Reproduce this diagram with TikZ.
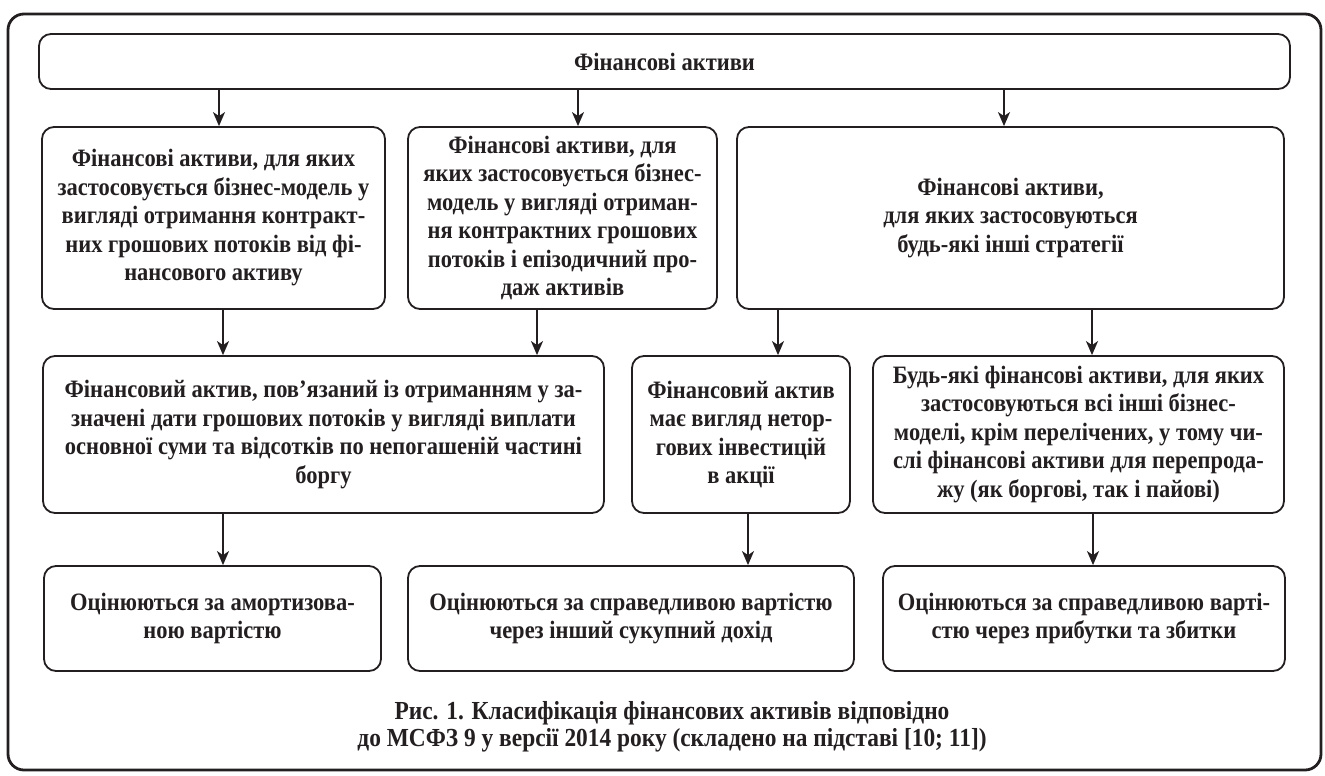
\documentclass[tikz,border=0pt]{standalone}
\usepackage{fontspec}
\setmainfont{Liberation Serif}[FakeStretch=0.9]
\usetikzlibrary{arrows.meta}
\definecolor{ink}{HTML}{231F20}
\begin{document}
\begin{tikzpicture}[x=1pt,y=-1pt,
  box/.style={draw=ink, line width=1.8pt, rounded corners=12pt, align=center, inner sep=0pt,
    text=ink, font=\fontsize{25}{28.5}\selectfont\bfseries},
  arr/.style={draw=ink, line width=1.8pt, -{Stealth[length=14pt,width=12pt,inset=4pt]}},
  capt/.style={align=center, text=ink, font=\fontsize{26}{27}\selectfont\bfseries}]
\useasboundingbox (0,0) rectangle (1325,776);
\draw[draw=ink, line width=2.8pt, rounded corners=16pt] (8,14) rectangle (1321,770);

\node[box, minimum width=1251pt, minimum height=55pt] (top) at (664.5,61.5) {Фінансові активи};

\node[box, minimum width=343pt, minimum height=182pt] (A) at (213.5,218)
  {Фінансові активи, для яких\\застосовується бізнес-модель у\\вигляді отримання контракт-\\них грошових потоків від фі-\\нансового активу};
\node[box, minimum width=309pt, minimum height=182pt] (B) at (562.5,218)
  {Фінансові активи, для\\яких застосовується бізнес-\\модель у вигляді отриман-\\ня контрактних грошових\\потоків і епізодичний про-\\даж активів};
\node[box, minimum width=547pt, minimum height=182pt] (C) at (1010.5,218)
  {Фінансові активи,\\для яких застосовуються\\будь-які інші стратегії};

\node[box, minimum width=561pt, minimum height=157pt] (E) at (323.5,434.5)
  {Фінансовий актив, пов’язаний із отриманням у за-\\значені дати грошових потоків у вигляді виплати\\основної суми та відсотків по непогашеній частині\\боргу};
\node[box, minimum width=218pt, minimum height=157pt] (F) at (741,434.5)
  {Фінансовий актив\\має вигляд нетор-\\гових інвестицій\\в акції};
\node[box, minimum width=411pt, minimum height=157pt] (D) at (1078.5,434.5)
  {Будь-які фінансові активи, для яких\\застосовуються всі інші бізнес-\\моделі, крім перелічених, у тому чи-\\слі фінансові активи для перепрода-\\жу (як боргові, так і пайові)};

\node[box, minimum width=337pt, minimum height=105pt] (G) at (212.5,618.5)
  {Оцінюються за амортизова-\\ною вартістю};
\node[box, minimum width=446pt, minimum height=105pt] (H) at (631,618.5)
  {Оцінюються за справедливою вартістю\\через інший сукупний дохід};
\node[box, minimum width=402pt, minimum height=105pt] (I) at (1084,618.5)
  {Оцінюються за справедливою варті-\\стю через прибутки та збитки};

\node[capt] (cap) at (672,727)
  {Рис. 1. Класифікація фінансових активів відповідно\\до МСФЗ 9 у версії 2014 року (складено на підставі [10; 11])};

\coordinate (xa) at (219,0);
\coordinate (xb) at (578,0);
\coordinate (xc) at (1004,0);
\coordinate (xe1) at (223,0);
\coordinate (xe2) at (537,0);
\coordinate (xf) at (778,0);
\coordinate (xd) at (1092,0);
\coordinate (xg) at (223,0);
\coordinate (xh) at (748,0);
\coordinate (xi) at (1093,0);

\draw[arr] (top.south -| xa) -- (A.north -| xa);
\draw[arr] (top.south -| xb) -- (B.north -| xb);
\draw[arr] (top.south -| xc) -- (C.north -| xc);
\draw[arr] (A.south -| xe1) -- (E.north -| xe1);
\draw[arr] (B.south -| xe2) -- (E.north -| xe2);
\draw[arr] (C.south -| xf) -- (F.north -| xf);
\draw[arr] (C.south -| xd) -- (D.north -| xd);
\draw[arr] (E.south -| xg) -- (G.north -| xg);
\draw[arr] (F.south -| xh) -- (H.north -| xh);
\draw[arr] (D.south -| xi) -- (I.north -| xi);
\end{tikzpicture}
\end{document}
